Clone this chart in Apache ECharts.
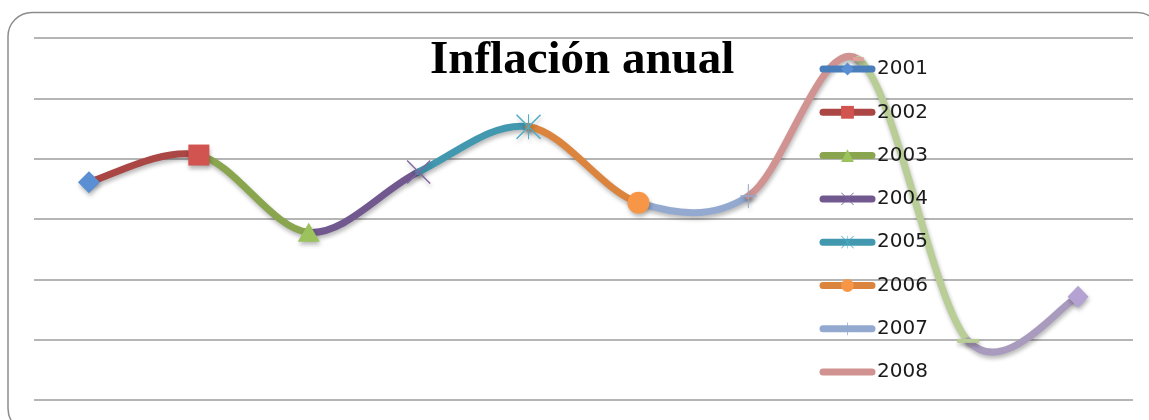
<!DOCTYPE html>
<html>
<head>
<meta charset="utf-8">
<script src="https://cdn.jsdelivr.net/npm/echarts@6/dist/echarts.min.js"></script>
<style>
  html, body { margin: 0; padding: 0; background: #ffffff; }
  #chart { width: 1149px; height: 420px; }
</style>
</head>
<body>
<div id="chart"></div>
<script>
// Annual inflation, one value per year
const years = ['2001', '2002', '2003', '2004', '2005', '2006', '2007', '2008', '2009', '2010'];
const inflation = [3.61, 4.06, 2.78, 3.78, 4.53, 3.27, 3.38, 5.65, 0.98, 1.71];
const legendYears = ['2001', '2002', '2003', '2004', '2005', '2006', '2007', '2008'];
const yMin = 0, yMax = 6, yStep = 1;

// Per-year styling (Office-like palette)
const lineColors = ['#4A7EBB', '#AA4643', '#89A54E', '#71588F', '#4198AF', '#DB843D',
                    '#93A9CF', '#D19392', '#B9CD96', '#A99BBD'];
const markerColors = ['#5B8FD3', '#D25450', '#9BC25C', '#7E64A3', '#4BACC6', '#F79646',
                      '#93A9CF', '#E0A09E', '#B9CD96', '#B3A2D2'];

const CROSS = 'path://M0,4L4,0L100,96L96,100ZM96,0L100,4L4,100L0,96Z';
const STAR = 'path://M0,4L4,0L100,96L96,100ZM96,0L100,4L4,100L0,96ZM48,0L52,0L52,100L48,100Z';
const PLUS = 'path://M47,0L53,0L53,100L47,100ZM0,47L100,47L100,53L0,53Z';

const markerShapes = ['diamond', 'rect', 'triangle', CROSS, STAR, 'circle', PLUS, 'rect', 'rect', 'diamond'];
const markerSizes = [[22, 22], [21, 21], [22, 19], [24, 24], [25, 25], 22, [16, 24], [11, 4], [22, 4], [21, 22]];
const legendShapes = ['diamond', 'rect', 'triangle', CROSS, STAR, 'circle', PLUS, 'rect'];

const shadow = { shadowBlur: 4, shadowOffsetX: 1, shadowOffsetY: 3, shadowColor: 'rgba(0,0,0,0.28)' };

// Smooth curve: each year's segment is a cubic Bezier (Catmull-Rom style tangents)
// drawn in that year's colour, from the previous year's point to its own point.
function renderSegment(params, api) {
  const i = params.dataIndex;
  if (i === 0) return null;
  const last = inflation.length - 1;
  const at = k => {
    const j = Math.max(0, Math.min(last, k));
    return api.coord([j, inflation[j]]);
  };
  const p0 = at(i - 2), p1 = at(i - 1), p2 = at(i), p3 = at(i + 1);
  const t = 1 / 6;
  return {
    type: 'bezierCurve',
    shape: {
      x1: p1[0], y1: p1[1],
      x2: p2[0], y2: p2[1],
      cpx1: p1[0] + (p2[0] - p0[0]) * t, cpy1: p1[1] + (p2[1] - p0[1]) * t,
      cpx2: p2[0] - (p3[0] - p1[0]) * t, cpy2: p2[1] - (p3[1] - p1[1]) * t
    },
    style: Object.assign({
      fill: 'none',
      stroke: lineColors[i],
      lineWidth: 7,
      lineCap: 'round'
    }, shadow)
  };
}

const curveSeries = {
  type: 'custom',
  name: 'curva',
  renderItem: renderSegment,
  data: inflation.map((v, i) => [i, v]),
  encode: { x: 0, y: 1 },
  z: 2,
  silent: true
};

const markerSeries = {
  type: 'line',
  name: 'Inflación',
  z: 3,
  silent: true,
  showAllSymbol: true,
  data: inflation.map((v, i) => ({
    value: v,
    symbol: markerShapes[i],
    symbolSize: markerSizes[i],
    itemStyle: { color: markerColors[i] }
  })),
  lineStyle: { width: 0, opacity: 0 },
  itemStyle: Object.assign({}, shadow),
  emphasis: { disabled: true }
};

// Series that only supply the legend entries
const legendSeries = legendYears.map((y, i) => ({
  type: 'line',
  name: y,
  data: [],
  color: lineColors[i],
  symbol: legendShapes[i],
  lineStyle: { color: lineColors[i], width: 7 },
  itemStyle: { color: i === 7 ? 'rgba(0,0,0,0)' : markerColors[i] }
}));

const chart = echarts.init(document.getElementById('chart'), null, { renderer: 'canvas' });
chart.setOption({
  animation: false,
  backgroundColor: '#ffffff',
  title: {
    text: 'Inflación anual',
    left: 425,
    top: 32,
    textStyle: { fontFamily: 'Liberation Serif', fontWeight: 'bold', fontSize: 47, color: '#000000' }
  },
  graphic: [{
    type: 'rect',
    shape: { x: 8, y: 12.5, width: 1153, height: 420, r: 24 },
    style: { fill: 'none', stroke: '#8c8c8c', lineWidth: 1.5 },
    z: -1,
    silent: true
  }],
  legend: {
    data: legendYears,
    orient: 'vertical',
    left: 814.5,
    top: 54,
    itemWidth: 49,
    itemHeight: 16,
    itemGap: 23.3,
    selectedMode: false,
    textStyle: { fontFamily: 'DejaVu Sans', fontSize: 20, color: '#1a1a1a' },
    lineStyle: { width: 7, cap: 'round' }
  },
  grid: { left: 34, right: 16, top: 38, bottom: 20, containLabel: false },
  xAxis: {
    type: 'category',
    data: years,
    boundaryGap: true,
    show: false
  },
  yAxis: {
    type: 'value',
    min: yMin,
    max: yMax,
    interval: yStep,
    axisLabel: { show: false },
    axisLine: { show: false },
    axisTick: { show: false },
    splitLine: { lineStyle: { color: '#9c9c9c', width: 1.5 } }
  },
  series: [curveSeries, markerSeries].concat(legendSeries)
});
</script>
</body>
</html>
